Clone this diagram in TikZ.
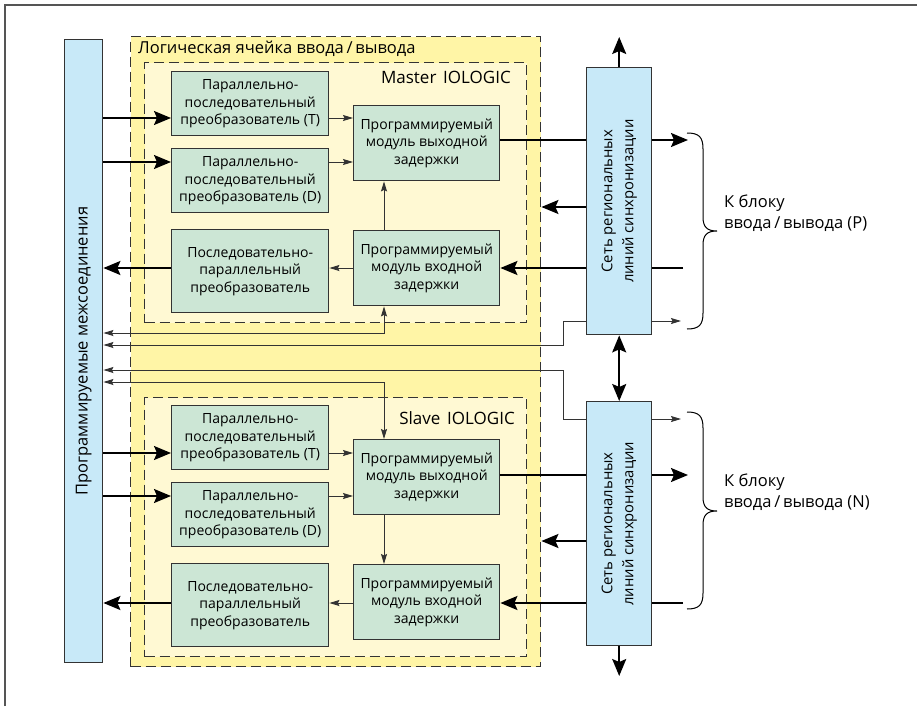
\documentclass[tikz,border=0pt]{standalone}
\usepackage{fontspec}
\setmainfont{Open Sans}
\usetikzlibrary{arrows.meta}

\definecolor{cellyellow}{HTML}{FFF5A6}
\definecolor{logicyellow}{HTML}{FFF9D3}
\definecolor{blockgreen}{HTML}{CCE6D5}
\definecolor{netblue}{HTML}{C8E9F8}
\definecolor{edgegray}{HTML}{333333}
\definecolor{framegray}{HTML}{555555}

\pgfdeclarelayer{back}
\pgfdeclarelayer{wires}
\pgfsetlayers{back,wires,main}

\tikzset{
  txt/.style={font=\fontsize{14}{17.5}\selectfont},
  nettxt/.style={font=\fontsize{14.8}{21}\selectfont},
  labeltxt/.style={font=\fontsize{16.5}{20.5}\selectfont},
  logictxt/.style={font=\fontsize{17}{20}\selectfont},
  cellframe/.style={draw=edgegray, line width=1.4pt, dash pattern=on 10pt off 5pt,
    fill=cellyellow, anchor=north west, inner sep=0pt},
  logicframe/.style={draw=edgegray, line width=1.4pt, dash pattern=on 10pt off 5pt,
    fill=logicyellow, anchor=north west, inner sep=0pt},
  block/.style={draw=edgegray, line width=1.4pt, fill=blockgreen, anchor=north west,
    align=center, inner sep=0pt, txt},
  netbox/.style={draw=edgegray, line width=1.4pt, fill=netblue, anchor=north west,
    align=center, inner sep=0pt},
  bigwire/.style={draw=black, line width=1.8pt,
    -{Stealth[length=17pt,width=14pt,inset=3pt]}},
  bigboth/.style={draw=black, line width=1.8pt,
    {Stealth[length=17pt,width=14pt,inset=3pt]}-{Stealth[length=17pt,width=14pt,inset=3pt]}},
  bigline/.style={draw=black, line width=1.8pt},
  thinwire/.style={draw=edgegray, line width=1pt, -{Stealth[length=10pt,width=6pt,inset=1.5pt]}},
  thinboth/.style={draw=edgegray, line width=1pt,
    {Stealth[length=10pt,width=6pt,inset=1.5pt]}-{Stealth[length=10pt,width=6pt,inset=1.5pt]}},
  bracestroke/.style={draw=black, line width=1pt},
}

\begin{document}
\begin{tikzpicture}[x=1pt,y=-1pt]
\useasboundingbox (0,0) rectangle (917,706);

% outer frame
\draw[framegray, line width=1.6pt] (5,706) -- (5,5) -- (917,5);

% containers
\begin{pgfonlayer}{back}
\node[cellframe, minimum width=410pt, minimum height=630pt] (cell) at (130,36) {};
\node[logicframe, minimum width=382pt, minimum height=260pt] (mlogic) at (144,62) {};
\node[logicframe, minimum width=382pt, minimum height=259pt] (slogic) at (144,397) {};
\end{pgfonlayer}

\node[labeltxt, anchor=base west, inner sep=0pt] (celllabel) at (138,54) {Логическая ячейка ввода\,/\,вывода};
\node[logictxt, anchor=base east, inner sep=0pt] (mlabel) at (511,84) {Master\hspace{0.4em}IOLOGIC};
\node[logictxt, anchor=base east, inner sep=0pt] (slabel) at (515,424) {Slave\hspace{0.4em}IOLOGIC};

% programmable interconnect bar
\node[netbox, minimum width=38pt, minimum height=623pt] (bar) at (64,39) {};
\node[labeltxt, rotate=90] (bartext) at (bar.center) {Программируемые межсоединения};

% regional clock networks
\node[netbox, minimum width=65pt, minimum height=267pt] (netM) at (586,67) {};
\node[nettxt, rotate=90, align=center] (netMtext) at (netM.center) {Сеть региональных\\линий синхронизации};
\node[netbox, minimum width=65pt, minimum height=244pt] (netS) at (586,401) {};
\node[nettxt, rotate=90, align=center] (netStext) at (netS.center) {Сеть региональных\\линий синхронизации};

% master IOLOGIC blocks
\node[block, minimum width=157pt, minimum height=64pt] (tM) at (171,71) {Параллельно-\\последовательный\\преобразователь (T)};
\node[block, minimum width=157pt, minimum height=64pt] (dM) at (171,148) {Параллельно-\\последовательный\\преобразователь (D)};
\node[block, minimum width=157pt, minimum height=83pt] (spM) at (171,229) {Последовательно-\\параллельный\\преобразователь};
\node[block, minimum width=146pt, minimum height=75pt] (oM) at (353,105) {Программируемый\\модуль выходной\\задержки};
\node[block, minimum width=146pt, minimum height=75pt] (iM) at (353,230) {Программируемый\\модуль входной\\задержки};

% slave IOLOGIC blocks
\node[block, minimum width=157pt, minimum height=64pt] (tS) at (171,405) {Параллельно-\\последовательный\\преобразователь (T)};
\node[block, minimum width=157pt, minimum height=64pt] (dS) at (171,482) {Параллельно-\\последовательный\\преобразователь (D)};
\node[block, minimum width=157pt, minimum height=83pt] (spS) at (171,563) {Последовательно-\\параллельный\\преобразователь};
\node[block, minimum width=146pt, minimum height=75pt] (oS) at (353,439) {Программируемый\\модуль выходной\\задержки};
\node[block, minimum width=146pt, minimum height=75pt] (iS) at (353,564) {Программируемый\\модуль входной\\задержки};

% routing levels
\coordinate (xv) at (384,0);
\coordinate (xj) at (563,0);
\coordinate (mT) at (0,118);  \coordinate (mD) at (0,162);
\coordinate (mO) at (0,140);  \coordinate (mC) at (0,207);
\coordinate (mI) at (0,268);  \coordinate (mK) at (0,321);
\coordinate (mF) at (0,333);  \coordinate (mR) at (0,345);
\coordinate (sR) at (0,370);  \coordinate (sF) at (0,382);
\coordinate (sK) at (0,419);  \coordinate (sT) at (0,453);
\coordinate (sO) at (0,475);  \coordinate (sD) at (0,496);
\coordinate (sC) at (0,541);  \coordinate (sI) at (0,603);

% free ends towards the I/O blocks
\coordinate (outM) at (688,140);
\coordinate (inM) at (683,268);
\coordinate (kM) at (681,321);
\coordinate (kS) at (681,419);
\coordinate (outS) at (688,475);
\coordinate (inS) at (683,603);
\coordinate (topM) at (netM.north |- 0,37);
\coordinate (botS) at (netS.south |- 0,676);

\begin{pgfonlayer}{wires}
% master
\draw[bigwire] (bar.east |- mT) -- (tM.west |- mT);
\draw[bigwire] (bar.east |- mD) -- (dM.west |- mD);
\draw[thinwire] (tM.east |- mT) -- (oM.west |- mT);
\draw[thinwire] (dM.east |- mD) -- (oM.west |- mD);
\draw[thinwire] (iM.north -| xv) -- (oM.south -| xv);
\draw[thinwire] (iM.west |- mI) -- (spM.east |- mI);
\draw[bigwire] (spM.west |- mI) -- (bar.east |- mI);
\draw[bigline] (oM.east |- mO) -- (netM.west |- mO);
\draw[bigwire] (netM.east |- mO) -- (outM);
\draw[bigwire] (netM.west |- mC) -- (cell.east |- mC);
\draw[bigline] (inM) -- (netM.east |- mI);
\draw[bigwire] (netM.west |- mI) -- (iM.east |- mI);
\draw[thinwire] (netM.east |- mK) -- (kM);
\draw[thinboth] (bar.east |- mF) -- (xv |- mF) -- (iM.south -| xv);
\draw[thinwire] (netM.west |- mK) -- (xj |- mK) -- (xj |- mR) -- (bar.east |- mR);
\draw[bigwire] (netM.north) -- (topM);
\draw[bigboth] (netM.south) -- (netS.north);
% slave
\draw[thinwire] (netS.west |- sK) -- (xj |- sK) -- (xj |- sR) -- (bar.east |- sR);
\draw[thinwire] (netS.east |- sK) -- (kS);
\draw[thinboth] (bar.east |- sF) -- (xv |- sF) -- (oS.north -| xv);
\draw[bigwire] (bar.east |- sT) -- (tS.west |- sT);
\draw[bigwire] (bar.east |- sD) -- (dS.west |- sD);
\draw[thinwire] (tS.east |- sT) -- (oS.west |- sT);
\draw[thinwire] (dS.east |- sD) -- (oS.west |- sD);
\draw[thinwire] (oS.south -| xv) -- (iS.north -| xv);
\draw[thinwire] (iS.west |- sI) -- (spS.east |- sI);
\draw[bigwire] (spS.west |- sI) -- (bar.east |- sI);
\draw[bigline] (oS.east |- sO) -- (netS.west |- sO);
\draw[bigwire] (netS.east |- sO) -- (outS);
\draw[bigwire] (netS.west |- sC) -- (cell.east |- sC);
\draw[bigline] (inS) -- (netS.east |- sI);
\draw[bigwire] (netS.west |- sI) -- (iS.east |- sI);
\draw[bigwire] (netS.south) -- (botS);
\end{pgfonlayer}

% braces and I/O block labels
\draw[bracestroke] (687,133) .. controls (699,133) and (703,137) .. (703,149)
  -- (703,217) .. controls (703,227) and (707,231) .. (717,231)
  .. controls (707,231) and (703,235) .. (703,245)
  -- (703,313) .. controls (703,325) and (699,329) .. (687,329);
\node[labeltxt, anchor=base west, align=left, inner sep=0pt] (ioP) at (724,228) {К блоку\\ввода\,/\,вывода (P)};

\draw[bracestroke] (687,412) .. controls (699,412) and (703,416) .. (703,428)
  -- (703,497) .. controls (703,507) and (707,511) .. (717,511)
  .. controls (707,511) and (703,515) .. (703,525)
  -- (703,593) .. controls (703,605) and (699,609) .. (687,609);
\node[labeltxt, anchor=base west, align=left, inner sep=0pt] (ioN) at (724,507) {К блоку\\ввода\,/\,вывода (N)};
\end{tikzpicture}
\end{document}
